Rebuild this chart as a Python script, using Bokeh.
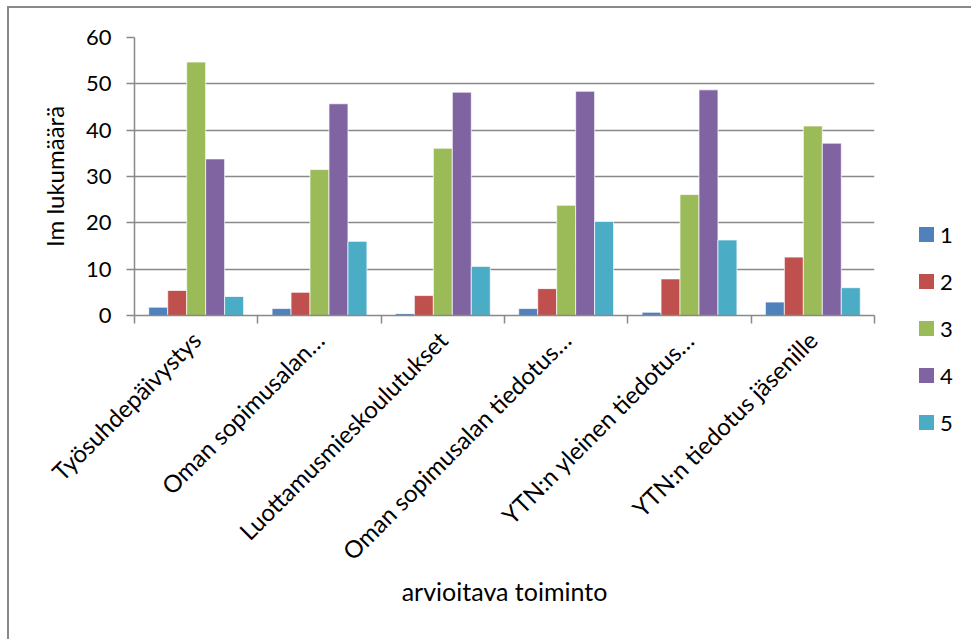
import math
from bokeh.plotting import figure
from bokeh.layouts import row
from bokeh.models import ColumnDataSource, Range1d, FixedTicker, Div
from bokeh.transform import dodge
from bokeh.embed import file_html
from bokeh.resources import INLINE

# Rated activities and mean counts per rating (1-5)
categories = [
    "Työsuhdepäivystys",
    "Oman sopimusalan…",
    "Luottamusmieskoulutukset",
    "Oman sopimusalan tiedotus…",
    "YTN:n yleinen tiedotus…",
    "YTN:n tiedotus jäsenille",
]
rating_1 = [1.8, 1.5, 0.4, 1.5, 0.7, 2.9]
rating_2 = [5.4, 5.0, 4.3, 5.8, 7.9, 12.6]
rating_3 = [54.7, 31.5, 36.1, 23.8, 26.1, 40.9]
rating_4 = [33.8, 45.7, 48.2, 48.4, 48.7, 37.2]
rating_5 = [4.1, 16.0, 10.6, 20.3, 16.3, 6.0]
series_names = ["1", "2", "3", "4", "5"]
y_ticks = [0, 10, 20, 30, 40, 50, 60]

colors = ["#4F81BD", "#C0504D", "#9BBB59", "#8064A2", "#4BACC6"]
FONT = "Lato"
GREY = "#898989"

centers = [i + 0.5 for i in range(len(categories))]
source = ColumnDataSource(dict(
    x=centers, r1=rating_1, r2=rating_2, r3=rating_3, r4=rating_4, r5=rating_5,
))

p = figure(
    width=881, height=632,
    x_range=Range1d(0, len(categories)), y_range=Range1d(0, 60),
    output_backend="svg", toolbar_location=None,
    min_border_left=125, min_border_right=16,
    min_border_top=29, min_border_bottom=325,
)
p.outline_line_color = None
p.background_fill_color = "white"
p.border_fill_color = "white"

bar_w = 1 / 6.5  # five bars plus a 150% gap in every category
for k, (col, color) in enumerate(zip(["r1", "r2", "r3", "r4", "r5"], colors)):
    p.vbar(x=dodge("x", (k - 2) * bar_w, range=p.x_range), top=col,
           width=bar_w, bottom=0, source=source,
           fill_color=color, line_color="white", line_alpha=0.7, line_width=1)

# X axis: boundary ticks between categories, labels at category centres
xa = p.xaxis[0]
xa.ticker = FixedTicker(ticks=centers, minor_ticks=list(range(len(categories) + 1)))
xa.major_label_overrides = {c: name for c, name in zip(centers, categories)}
xa.major_label_orientation = math.pi / 4
xa.major_tick_in = 0
xa.major_tick_out = 0
xa.minor_tick_in = 0
xa.minor_tick_out = 8
xa.minor_tick_line_color = GREY
xa.minor_tick_line_width = 1.5
xa.axis_line_color = GREY
xa.axis_line_width = 1.5
xa.major_label_standoff = 12
xa.major_label_text_font = FONT
xa.major_label_text_font_size = "24px"
xa.major_label_text_color = "black"
xa.axis_label = "arvioitava toiminto"
xa.axis_label_text_font = FONT
xa.axis_label_text_font_size = "25px"
xa.axis_label_text_font_style = "normal"
xa.axis_label_text_color = "black"
xa.axis_label_standoff = -3

ya = p.yaxis[0]
ya.ticker = FixedTicker(ticks=y_ticks, minor_ticks=[])
ya.major_tick_in = 0
ya.major_tick_out = 8
ya.major_tick_line_color = GREY
ya.major_tick_line_width = 1.5
ya.axis_line_color = GREY
ya.axis_line_width = 1.5
ya.major_label_standoff = 15
ya.major_label_text_font = FONT
ya.major_label_text_font_size = "22px"
ya.major_label_text_color = "black"
ya.axis_label = "Im lukumäärä"
ya.axis_label_text_font = FONT
ya.axis_label_text_font_size = "24px"
ya.axis_label_text_font_style = "normal"
ya.axis_label_text_color = "black"
ya.axis_label_standoff = 14

p.xgrid.grid_line_color = None
p.ygrid.grid_line_color = GREY
p.ygrid.grid_line_width = 1.5

# Legend: one swatch and label per rating, stacked to the right of the chart
rows_html = "".join(
    f'<div style="display:flex;align-items:center;height:47px;">'
    f'<span style="display:inline-block;width:15px;height:15px;background:{c};'
    f'margin-right:6px;"></span><span>{n}</span></div>'
    for n, c in zip(series_names, colors)
)
legend_div = Div(
    text=(f'<div style="padding-top:198px;padding-left:24px;font-family:{FONT};'
          f'font-size:22px;color:black;line-height:1;">{rows_html}</div>'),
    width=81, height=632,
)

# Chart area frame: border along the top and left edges
layout = row(p, legend_div, spacing=0,
             styles={"border-top": f"2px solid {GREY}", "border-left": f"2px solid {GREY}",
                     "margin-top": "6px", "margin-left": "7px"})
open("out.html", "w").write(file_html(layout, INLINE))
